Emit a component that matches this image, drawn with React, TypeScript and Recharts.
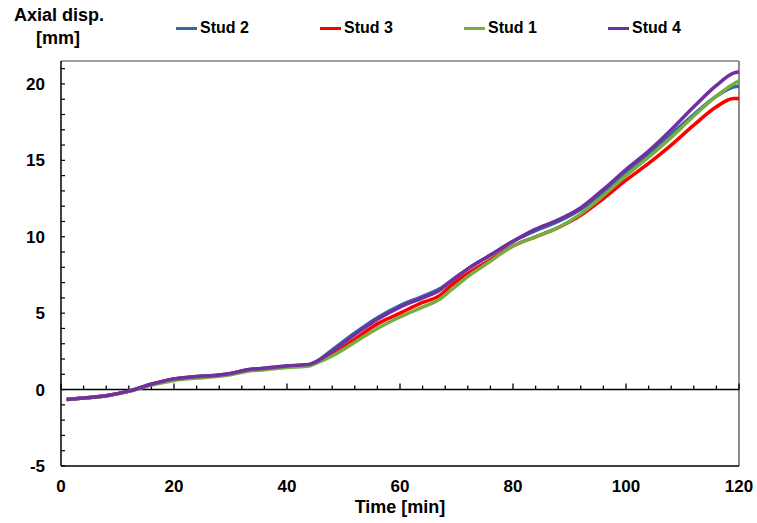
import React from "react";
import { LineChart, Line, XAxis, YAxis, ReferenceLine, ReferenceArea, Legend } from "recharts";

// time in minutes
const time = [1, 4, 8, 12, 16, 20, 24, 28, 30, 33, 36, 40, 44, 45, 48, 52, 56, 60, 64, 67, 69, 72, 76, 80, 84, 88, 92, 96, 100, 104, 108, 112, 116, 119, 120];

// axial displacement per stud [mm]
const stud2 = [-0.65, -0.55, -0.4, -0.1, 0.35, 0.7, 0.85, 0.95, 1.05, 1.3, 1.4, 1.55, 1.65, 1.8, 2.6, 3.7, 4.7, 5.5, 6.1, 6.6, 7.1, 7.9, 8.8, 9.7, 10.4, 11.0, 11.8, 12.9, 14.2, 15.4, 16.7, 18.0, 19.2, 19.8, 19.85];
const stud3 = [-0.65, -0.55, -0.4, -0.1, 0.35, 0.68, 0.83, 0.93, 1.03, 1.27, 1.37, 1.52, 1.62, 1.75, 2.3, 3.3, 4.3, 5.0, 5.7, 6.15, 6.8, 7.6, 8.5, 9.4, 10.0, 10.6, 11.4, 12.5, 13.7, 14.8, 16.0, 17.3, 18.5, 19.05, 19.05];
const stud1 = [-0.65, -0.55, -0.42, -0.12, 0.3, 0.6, 0.75, 0.87, 0.97, 1.2, 1.3, 1.45, 1.55, 1.7, 2.2, 3.1, 4.0, 4.75, 5.4, 5.9, 6.5, 7.4, 8.4, 9.4, 10.0, 10.6, 11.5, 12.7, 14.0, 15.2, 16.5, 17.9, 19.2, 20.0, 20.2];
const stud4 = [-0.65, -0.55, -0.4, -0.1, 0.35, 0.7, 0.85, 0.95, 1.05, 1.3, 1.4, 1.55, 1.65, 1.8, 2.5, 3.6, 4.6, 5.4, 6.0, 6.5, 7.1, 7.9, 8.8, 9.7, 10.5, 11.1, 11.9, 13.1, 14.4, 15.6, 17.0, 18.5, 19.9, 20.7, 20.8];

const xTicks = [0, 20, 40, 60, 80, 100, 120];
const yTicks = [-5, 0, 5, 10, 15, 20];

const series = [
  { key: "stud2", name: "Stud 2", color: "#2e6ba3" },
  { key: "stud3", name: "Stud 3", color: "#ff0000" },
  { key: "stud1", name: "Stud 1", color: "#77ad42" },
  { key: "stud4", name: "Stud 4", color: "#7030a0" },
];

const data = time.map((t, i) => ({
  t,
  stud1: stud1[i],
  stud2: stud2[i],
  stud3: stud3[i],
  stud4: stud4[i],
}));

const FONT = "'Liberation Sans', Arial, sans-serif";

// plot frame: black left/bottom, grey top/right, minor ticks on the left axis
function Frame(props: any) {
  const { x, y, width, height } = props;
  const ticks = [];
  for (let v = -5; v <= 21; v += 1) {
    const py = y + height - (height * (v + 5)) / 26.5;
    ticks.push(<line key={v} x1={x} x2={x + 4} y1={py} y2={py} stroke="#000" strokeWidth={1.2} />);
  }
  return (
    <g>
      <line x1={x} x2={x + width} y1={y} y2={y} stroke="#808080" strokeWidth={1.5} />
      <line x1={x + width} x2={x + width} y1={y} y2={y + height} stroke="#8c8c8c" strokeWidth={2} />
      <line x1={x} x2={x + width} y1={y + height} y2={y + height} stroke="#000" strokeWidth={1.5} />
      <line x1={x} x2={x} y1={y} y2={y + height} stroke="#000" strokeWidth={1.5} />
      {ticks}
    </g>
  );
}

// horizontal axis line through y = 0 with upward ticks every 4 min
function ZeroAxis(props: any) {
  const { x1, x2, y1 } = props;
  const left = Math.min(x1, x2);
  const right = Math.max(x1, x2);
  const ticks = [];
  for (let t = 0; t <= 120; t += 4) {
    const px = left + ((right - left) * t) / 120;
    const len = t % 20 === 0 ? 6 : 4;
    ticks.push(<line key={t} x1={px} x2={px} y1={y1} y2={y1 - len} stroke="#000" strokeWidth={1.3} />);
  }
  return (
    <g>
      <line x1={left} x2={right} y1={y1} y2={y1} stroke="#000" strokeWidth={1.5} />
      {ticks}
    </g>
  );
}

function renderLegend() {
  return (
    <div style={{ display: "flex", fontFamily: FONT, fontWeight: "bold", fontSize: 16, lineHeight: "20px" }}>
      {series.map((s) => (
        <div key={s.key} style={{ width: 144, flexShrink: 0, display: "flex", alignItems: "center" }}>
          <span style={{ display: "inline-block", width: 21, height: 3, background: s.color, marginRight: 3 }} />
          <span>{s.name}</span>
        </div>
      ))}
    </div>
  );
}

function YTitle() {
  return (
    <g fontFamily={FONT} fontWeight="bold" fontSize={18} fill="#000" textAnchor="middle">
      <text x={59} y={21}>Axial disp.</text>
      <text x={58} y={44}>[mm]</text>
    </g>
  );
}

function XTitle(props: any) {
  const { viewBox } = props;
  const cx = viewBox.x + viewBox.width / 2;
  return (
    <text x={cx} y={513} fontFamily={FONT} fontWeight="bold" fontSize={18} fill="#000" textAnchor="middle">
      Time [min]
    </text>
  );
}

export default function App() {
  return (
    <div style={{ position: "absolute", left: 0, top: 0, width: 757, height: 523, background: "#fff" }}>
      <LineChart width={757} height={523} data={data} margin={{ top: 61, right: 18, bottom: 0, left: 0 }}>
        <XAxis
          dataKey="t"
          type="number"
          domain={[0, 120]}
          ticks={xTicks}
          height={57}
          axisLine={false}
          tickLine={false}
          tickSize={0}
          tickMargin={14}
          tick={{ fill: "#000", fontFamily: FONT, fontWeight: "bold", fontSize: 17 }}
          label={{ content: <XTitle /> }}
        />
        <YAxis
          type="number"
          domain={[-5, 21.5]}
          ticks={yTicks}
          width={61}
          axisLine={false}
          tickLine={false}
          tickSize={0}
          tickMargin={16}
          allowDataOverflow
          tick={{ fill: "#000", fontFamily: FONT, fontWeight: "bold", fontSize: 17 }}
          label={{ content: <YTitle /> }}
        />
        <ReferenceArea x1={0} x2={120} y1={-5} y2={21.5} ifOverflow="visible" shape={Frame} />
        <ReferenceLine y={0} shape={ZeroAxis} />
        <Legend
          content={renderLegend}
          layout="horizontal"
          verticalAlign="middle"
          align="center"
          wrapperStyle={{ top: 18, left: 176, width: 578 }}
        />
        {series.map((s) => (
          <Line
            key={s.key}
            type="monotone"
            dataKey={s.key}
            name={s.name}
            stroke={s.color}
            strokeWidth={3.5}
            dot={false}
            isAnimationActive={false}
          />
        ))}
      </LineChart>
    </div>
  );
}
